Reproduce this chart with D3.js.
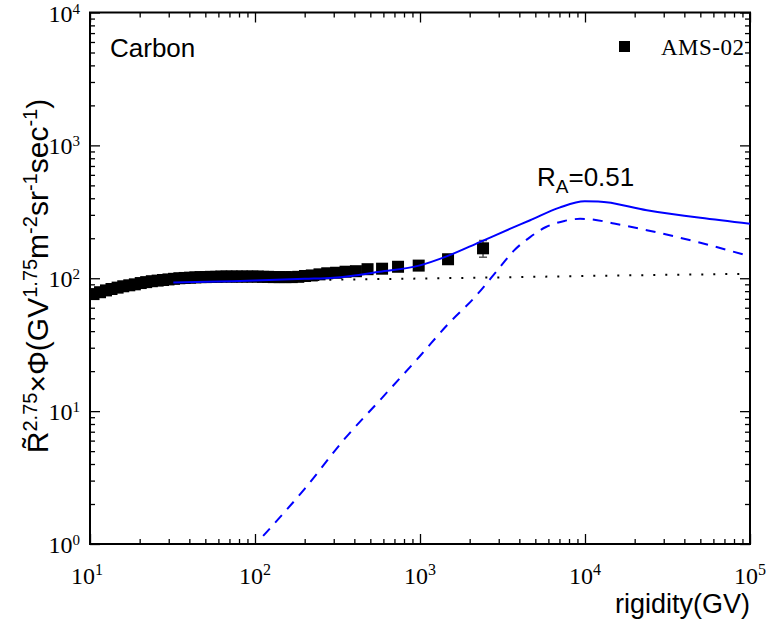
<!DOCTYPE html>
<html><head><meta charset="utf-8">
<script src="https://cdn.jsdelivr.net/npm/d3@7"></script>
<style>
html,body{margin:0;padding:0;background:#fff;}
svg{display:block;}
</style></head>
<body>
<script>
// ---- data ----
const amsRigidity = [10.5,11.5,12.5,13.5,14.7,15.9,17.3,18.7,20.3,21.9,23.7,25.7,27.7,29.9,32.3,34.8,37.5,40.4,43.5,46.8,50.3,54.1,58.2,62.5,67.2,72.3,77.6,83.4,89.7,96.4,104,112,120,130,141,153,167,183,201,221,246,274,310,354,409,481,589,736,982,1479,2410];
const amsFlux = [76,78.5,81,83,85,87,88.5,90,92,93.5,95,96,97,98,99,100,100.5,101,101.5,102,102,102.5,102.5,103,103,103,103,103,103,103,103,102.5,102.5,102,102,102,102,102.5,104,105,107,109,110,112,113,117,118,122,124.5,139,168];
const amsErr = [1.5,1.5,1.5,1.5,1.5,1.5,1.5,1.5,1.5,1.5,1.5,1.5,1.5,1.5,1.5,1.5,1.5,1.5,1.5,1.5,1.5,1.5,1.5,1.5,1.5,1.5,1.5,1.5,1.5,1.5,2,2,2,2,2,2,2,2,2.5,2.5,3,3,3,3.5,4,4,4.5,5,6,10,24];

const totalR = [32,60,100,200,300,570,1000,1450,2300,3500,4650,7000,9960,12000,23700,50000,100000];
const totalV = [92.7,94.5,96,99,101,112,125,146,187,235,273,340,379,378,325,285,257];

const dashR = [112,200,350,572,1000,1500,2103,3000,3680,4650,5800,7500,9340,10500,15000,23700,50000,100000];
const dashV = [1.15,2.6,6.2,12.1,26,46,70,118,160,204,243,270,280,279,258,230,185,146];

const dotR = [32,100,300,1000,3000,10000,30000,100000];
const dotV = [93,95.5,97.5,99.5,101.5,104,106,108];

const xMajor = [10,100,1000,10000,100000];
const xExp = ["1","2","3","4","5"];
const yMajor = [1,10,100,1000,10000];
const yExp = ["0","1","2","3","4"];

// ---- chart ----
const W = 769, H = 625;
const L = 90, R = 750, T = 12.5, B = 544;
const svg = d3.select("body").append("svg").attr("width", W).attr("height", H);
const x = d3.scaleLog().domain([10, 1e5]).range([L, R]);
const y = d3.scaleLog().domain([1, 1e4]).range([B, T]);

const minorX = [], minorY = [];
for (let d = 10; d < 1e5; d *= 10) for (let k = 2; k <= 9; k++) minorX.push(d * k);
for (let d = 1; d < 1e4; d *= 10) for (let k = 2; k <= 9; k++) minorY.push(d * k);

svg.append("defs").append("clipPath").attr("id", "clip")
  .append("rect").attr("x", L).attr("y", T).attr("width", R - L).attr("height", B - T);

// axes with inward ticks
function axisGroup(axisFn, scale, tr, vals, size) {
  const g = svg.append("g").attr("transform", tr)
    .call(axisFn(scale).tickValues(vals).tickSize(size).tickFormat(""));
  g.select(".domain").remove();
  g.selectAll(".tick line").attr("stroke", "#000").attr("stroke-width", 1.3);
  return g;
}
axisGroup(d3.axisBottom, x, `translate(0,${B})`, xMajor, -10);
axisGroup(d3.axisBottom, x, `translate(0,${B})`, minorX, -5);
axisGroup(d3.axisTop, x, `translate(0,${T})`, xMajor, -10);
axisGroup(d3.axisTop, x, `translate(0,${T})`, minorX, -5);
axisGroup(d3.axisLeft, y, `translate(${L},0)`, yMajor, -10);
axisGroup(d3.axisLeft, y, `translate(${L},0)`, minorY, -5);
axisGroup(d3.axisRight, y, `translate(${R},0)`, yMajor, -10);
axisGroup(d3.axisRight, y, `translate(${R},0)`, minorY, -5);

svg.append("rect").attr("x", L).attr("y", T).attr("width", R - L).attr("height", B - T)
  .attr("fill", "none").attr("stroke", "#000").attr("stroke-width", 2);

// tick labels
const serif = "'Liberation Serif','Times New Roman',serif";
xMajor.forEach((v, i) => {
  const t = svg.append("text").attr("x", x(v) + (i === 0 ? -3 : 0)).attr("y", 584)
    .attr("text-anchor", "middle").attr("font-family", serif).attr("font-size", 24).attr("fill", "#000");
  t.append("tspan").text("10");
  t.append("tspan").attr("dy", -9).attr("font-size", 16).text(xExp[i]);
});
yMajor.forEach((v, i) => {
  const t = svg.append("text").attr("x", 80).attr("y", y(v) + 9)
    .attr("text-anchor", "end").attr("font-family", serif).attr("font-size", 24).attr("fill", "#000");
  t.append("tspan").text("10");
  t.append("tspan").attr("dy", -8).attr("font-size", 15).text(yExp[i]);
});

// curves
const plot = svg.append("g").attr("clip-path", "url(#clip)");
const line = d3.line().x(d => x(d[0])).y(d => y(d[1])).curve(d3.curveMonotoneX);
plot.append("path").datum(dotR.map((r, i) => [r, dotV[i]])).attr("d", line)
  .attr("fill", "none").attr("stroke", "#000").attr("stroke-width", 2).attr("stroke-dasharray", "2,10");
plot.append("path").datum(dashR.map((r, i) => [r, dashV[i]])).attr("d", line)
  .attr("fill", "none").attr("stroke", "#0000ff").attr("stroke-width", 2).attr("stroke-dasharray", "10,8");

// data points
const pts = amsRigidity.map((r, i) => ({ r, v: amsFlux[i], e: amsErr[i] }));
plot.selectAll(".eb").data(pts).enter().append("line")
  .attr("x1", d => x(d.r)).attr("x2", d => x(d.r))
  .attr("y1", d => y(d.v + d.e)).attr("y2", d => y(d.v - d.e))
  .attr("stroke", "#555").attr("stroke-width", 1.5);
plot.selectAll(".ebc").data(pts.filter(d => d.e > 8)).enter().append("g").each(function (d) {
  const g = d3.select(this);
  [d.v + d.e, d.v - d.e].forEach(val => g.append("line")
    .attr("x1", x(d.r) - 4).attr("x2", x(d.r) + 4).attr("y1", y(val)).attr("y2", y(val))
    .attr("stroke", "#555").attr("stroke-width", 1.5));
});
const S = 12;
plot.selectAll(".pt").data(pts).enter().append("rect")
  .attr("x", d => x(d.r) - S / 2).attr("y", d => y(d.v) - S / 2)
  .attr("width", S).attr("height", S).attr("fill", "#000");

plot.append("path").datum(totalR.map((r, i) => [r, totalV[i]])).attr("d", line)
  .attr("fill", "none").attr("stroke", "#0000ff").attr("stroke-width", 2);

// texts
const sans = "'Liberation Sans',Arial,sans-serif";
svg.append("text").attr("x", 110).attr("y", 57).attr("font-family", sans).attr("font-size", 26).text("Carbon");
const ra = svg.append("text").attr("x", 537).attr("y", 186).attr("font-family", sans).attr("font-size", 26);
ra.append("tspan").text("R");
ra.append("tspan").attr("dy", 7).attr("font-size", 19).text("A");
ra.append("tspan").attr("dy", -7).text("=0.51");

svg.append("rect").attr("x", 619).attr("y", 41).attr("width", 11).attr("height", 11).attr("fill", "#000");
svg.append("text").attr("x", 661).attr("y", 55).attr("font-family", serif).attr("font-size", 23)
  .attr("letter-spacing", 0.5).text("AMS-02");

svg.append("text").attr("x", 750).attr("y", 613).attr("text-anchor", "end")
  .attr("font-family", sans).attr("font-size", 27).text("rigidity(GV)");

const yl = svg.append("text").attr("transform", "translate(48,276) rotate(-90)")
  .attr("text-anchor", "middle").attr("font-family", sans).attr("font-size", 30);
yl.append("tspan").text("R\u0303");
yl.append("tspan").attr("dy", -11).attr("font-size", 20).text("2.75");
yl.append("tspan").attr("dy", 11).text("\u00d7\u03a6(GV");
yl.append("tspan").attr("dy", -11).attr("font-size", 20).text("1.75");
yl.append("tspan").attr("dy", 11).text("m");
yl.append("tspan").attr("dy", -11).attr("font-size", 20).text("-2");
yl.append("tspan").attr("dy", 11).text("sr");
yl.append("tspan").attr("dy", -11).attr("font-size", 20).text("-1");
yl.append("tspan").attr("dy", 11).text("sec");
yl.append("tspan").attr("dy", -11).attr("font-size", 20).text("-1");
yl.append("tspan").attr("dy", 11).text(")");
</script>
</body></html>
